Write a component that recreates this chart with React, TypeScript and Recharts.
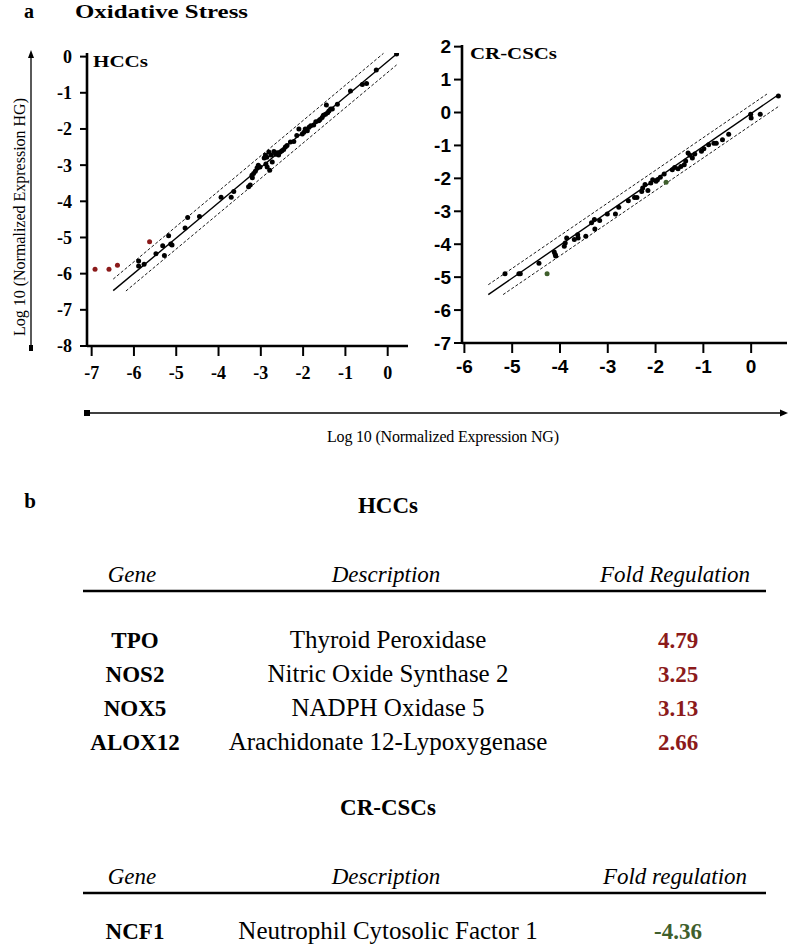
import React from 'react';
import { ScatterChart, Scatter, XAxis, YAxis, ReferenceLine } from 'recharts';

type Pt = [number, number];

// axis ticks
const hccXTicks = [-7, -6, -5, -4, -3, -2, -1, 0];
const hccYTicks = [-8, -7, -6, -5, -4, -3, -2, -1, 0];
const crXTicks = [-6, -5, -4, -3, -2, -1, 0];
const crYTicks = [-7, -6, -5, -4, -3, -2, -1, 0, 1, 2];

// HCCs: log10 expression NG (x) vs HG (y)
const hccPoints: Pt[] = [
  [-5.89, -5.65], [-5.89, -5.79], [-5.76, -5.74], [-5.48, -5.45], [-5.32, -5.23],
  [-5.28, -5.5], [-5.18, -4.95], [-5.13, -5.18], [-5.1, -5.21], [-4.79, -4.74],
  [-4.73, -4.45], [-4.45, -4.42], [-3.94, -3.89], [-3.7, -3.89], [-3.64, -3.73],
  [-3.29, -3.6], [-3.25, -3.55], [-3.21, -3.28], [-3.17, -3.23], [-3.13, -3.17],
  [-3.09, -3.08], [-3.06, -3.0], [-3.02, -3.05], [-3.2, -3.35], [-2.89, -2.73],
  [-2.85, -3.05], [-2.79, -3.14], [-2.88, -2.97], [-2.73, -2.91], [-2.81, -2.64],
  [-2.86, -2.78], [-2.92, -2.8], [-2.76, -2.72], [-2.69, -2.62], [-2.65, -2.7],
  [-2.61, -2.66], [-2.58, -2.72], [-2.54, -2.64], [-2.5, -2.6], [-2.46, -2.57],
  [-2.42, -2.5], [-2.38, -2.46], [-2.3, -2.36], [-2.22, -2.35], [-2.15, -2.18],
  [-2.1, -2.0], [-2.02, -2.14], [-1.98, -2.09], [-1.95, -2.0], [-1.9, -2.05],
  [-1.86, -1.95], [-1.82, -1.91], [-1.75, -1.89], [-1.7, -1.8], [-1.63, -1.77],
  [-1.6, -1.74], [-1.55, -1.68], [-1.52, -1.62], [-1.47, -1.59], [-1.45, -1.34],
  [-1.42, -1.55], [-1.39, -1.5], [-1.35, -1.45], [-1.31, -1.45], [-1.19, -1.32],
  [-0.88, -0.95], [-0.6, -0.77], [-0.5, -0.74], [-0.27, -0.37], [0.21, 0.07],
];
const hccUpPoints: Pt[] = [[-6.92, -5.88], [-6.59, -5.88], [-6.39, -5.77], [-5.63, -5.12]];

// CR-CSCs
const crPoints: Pt[] = [
  [-5.15, -4.9], [-4.86, -4.9], [-4.83, -4.9], [-4.44, -4.58], [-4.12, -4.24],
  [-4.1, -4.31], [-4.09, -4.36], [-3.91, -4.06], [-3.89, -3.96], [-3.86, -3.81],
  [-3.7, -3.86], [-3.63, -3.71], [-3.62, -3.81], [-3.46, -3.76], [-3.34, -3.35],
  [-3.28, -3.25], [-3.27, -3.54], [-3.17, -3.28], [-3.01, -3.08], [-2.84, -3.08],
  [-2.77, -2.88], [-2.57, -2.68], [-2.44, -2.58], [-2.39, -2.58], [-2.29, -2.4],
  [-2.27, -2.29], [-2.22, -2.19], [-2.16, -2.37], [-2.1, -2.14], [-2.06, -2.04],
  [-1.99, -2.09], [-1.96, -2.04], [-1.9, -1.97], [-1.82, -1.87], [-1.65, -1.74],
  [-1.6, -1.67], [-1.53, -1.71], [-1.47, -1.64], [-1.4, -1.59], [-1.37, -1.47],
  [-1.32, -1.23], [-1.28, -1.3], [-1.23, -1.38], [-1.18, -1.26], [-1.04, -1.18],
  [-0.99, -1.1], [-0.89, -0.98], [-0.78, -0.93], [-0.73, -0.93], [-0.6, -0.83],
  [-0.47, -0.66], [-0.01, -0.05], [0.0, -0.17], [0.19, -0.05], [0.57, 0.5],
];
const crDownPoints: Pt[] = [[-4.27, -4.9], [-1.78, -2.12]];

// identity line and 2-fold boundaries (start, end)
const hccFit: Pt[] = [[-6.49, -6.47], [0.21, 0.07]];
const hccUpper: Pt[] = [[-6.49, -6.15], [-0.1, 0.09]];
const hccLower: Pt[] = [[-6.19, -6.48], [0.21, -0.23]];
const crFit: Pt[] = [[-5.5, -5.53], [0.57, 0.54]];
const crUpper: Pt[] = [[-5.5, -5.23], [0.33, 0.56]];
const crLower: Pt[] = [[-5.19, -5.53], [0.6, 0.21]];

// tables
const hccGenes = ['TPO', 'NOS2', 'NOX5', 'ALOX12'];
const hccDescriptions = ['Thyroid Peroxidase', 'Nitric Oxide Synthase 2', 'NADPH Oxidase 5', 'Arachidonate 12-Lypoxygenase'];
const hccFolds = [4.79, 3.25, 3.13, 2.66];
const crGenes = ['NCF1'];
const crDescriptions = ['Neutrophil Cytosolic Factor 1'];
const crFolds = [-4.36];

const SERIF = 'Liberation Serif, Times New Roman, serif';
const NARROW = 'Liberation Sans Narrow, Liberation Sans, Arial, sans-serif';
const UP = '#8b1a1a';
const DOWN = '#3f5f2c';

const toRows = (pts: Pt[]) => pts.map(([x, y]) => ({ x, y }));
const seg = (pts: Pt[]) => pts.map(([x, y]) => ({ x, y }));
const dot = (color: string) => (props: any) => <circle cx={props.cx} cy={props.cy} r={2.5} fill={color} />;

interface PanelProps {
  width: number;
  height: number;
  margin: { top: number; right: number; bottom: number; left: number };
  yWidth: number;
  xDomain: [number, number];
  yDomain: [number, number];
  xTicks: number[];
  yTicks: number[];
  points: Pt[];
  marked: Pt[];
  markColor: string;
  fit: Pt[];
  upper: Pt[];
  lower: Pt[];
  tickFont: React.SVGProps<SVGTextElement>;
  xTickMargin: number;
  yTickSize: number;
  yTickMargin: number;
}

const Panel: React.FC<PanelProps> = (p) => (
  <ScatterChart width={p.width} height={p.height} margin={p.margin}>
    <XAxis
      type="number"
      dataKey="x"
      domain={p.xDomain}
      ticks={p.xTicks}
      interval={0}
      allowDataOverflow
      height={30}
      axisLine={{ stroke: '#000', strokeWidth: 2.6 }}
      tickLine={{ stroke: '#000', strokeWidth: 2 }}
      tickSize={10}
      tickMargin={p.xTickMargin}
      tick={p.tickFont as any}
    />
    <YAxis
      type="number"
      dataKey="y"
      domain={p.yDomain}
      ticks={p.yTicks}
      interval={0}
      allowDataOverflow
      width={p.yWidth}
      axisLine={{ stroke: '#000', strokeWidth: 2.6 }}
      tickLine={{ stroke: '#000', strokeWidth: 2 }}
      tickSize={p.yTickSize}
      tickMargin={p.yTickMargin}
      tick={p.tickFont as any}
    />
    <ReferenceLine segment={seg(p.upper)} stroke="#000" strokeWidth={0.9} strokeDasharray="3 2" ifOverflow="visible" />
    <ReferenceLine segment={seg(p.fit)} stroke="#000" strokeWidth={1.4} ifOverflow="visible" />
    <ReferenceLine segment={seg(p.lower)} stroke="#000" strokeWidth={0.9} strokeDasharray="3 2" ifOverflow="visible" />
    <Scatter data={toRows(p.points)} shape={dot('#000')} isAnimationActive={false} />
    <Scatter data={toRows(p.marked)} shape={dot(p.markColor)} isAnimationActive={false} />
  </ScatterChart>
);

const T: React.FC<React.SVGProps<SVGTextElement>> = (props) => <text fontFamily={SERIF} fill="#000" {...props} />;

const Table: React.FC<{
  top: number;
  title: string;
  foldLabel: string;
  genes: string[];
  descriptions: string[];
  folds: number[];
  color: string;
  rowGap: number;
  firstRow: number;
}> = ({ top, title, foldLabel, genes, descriptions, folds, color, rowGap, firstRow }) => (
  <g>
    <T x={388} y={top} textAnchor="middle" fontSize={23} fontWeight="bold">{title}</T>
    <T x={132} y={top + 69} textAnchor="middle" fontSize={23} fontStyle="italic">Gene</T>
    <T x={386} y={top + 69} textAnchor="middle" fontSize={23} fontStyle="italic">Description</T>
    <T x={675} y={top + 69} textAnchor="middle" fontSize={23} fontStyle="italic">{foldLabel}</T>
    <line x1={83} x2={766} y1={top + 78} y2={top + 78} stroke="#000" strokeWidth={2.4} />
    {genes.map((g, i) => (
      <g key={g}>
        <T x={135} y={top + firstRow + i * rowGap} textAnchor="middle" fontSize={23} fontWeight="bold">{g}</T>
        <T x={388} y={top + firstRow + i * rowGap} textAnchor="middle" fontSize={25}>{descriptions[i]}</T>
        <T x={678} y={top + firstRow + i * rowGap} textAnchor="middle" fontSize={23} fontWeight="bold" fill={color}>
          {folds[i].toFixed(2)}
        </T>
      </g>
    ))}
  </g>
);

export default function App() {
  return (
    <div style={{ position: 'absolute', left: 0, top: 0, width: 790, height: 947, background: '#fff', overflow: 'hidden' }}>
      <div style={{ position: 'absolute', left: 0, top: 0 }}>
        <Panel
          width={410}
          height={400}
          margin={{ top: 53, right: 2, bottom: 24, left: 7 }}
          yWidth={80}
          xDomain={[-7.11, 0.48]}
          yDomain={[-8, 0.1]}
          xTicks={hccXTicks}
          yTicks={hccYTicks}
          points={hccPoints}
          marked={hccUpPoints}
          markColor={UP}
          fit={hccFit}
          upper={hccUpper}
          lower={hccLower}
          tickFont={{ fontFamily: SERIF, fontWeight: 'bold', fontSize: 18, fill: '#000' }}
          xTickMargin={10}
          yTickSize={7}
          yTickMargin={8}
        />
      </div>
      <div style={{ position: 'absolute', left: 410, top: 0 }}>
        <Panel
          width={380}
          height={400}
          margin={{ top: 45, right: 3, bottom: 27, left: 2 }}
          yWidth={50}
          xDomain={[-6.05, 0.75]}
          yDomain={[-7, 2.05]}
          xTicks={crXTicks}
          yTicks={crYTicks}
          points={crPoints}
          marked={crDownPoints}
          markColor={DOWN}
          fit={crFit}
          upper={crUpper}
          lower={crLower}
          tickFont={{ fontFamily: NARROW, fontWeight: 'bold', fontSize: 19, fill: '#000' }}
          xTickMargin={7}
          yTickSize={8}
          yTickMargin={3}
        />
      </div>
      <svg width={790} height={947} style={{ position: 'absolute', left: 0, top: 0, pointerEvents: 'none' }}>
        <T x={29} y={18} textAnchor="middle" fontSize={20} fontWeight="bold">a</T>
        <T x={75} y={18} fontSize={18} fontWeight="bold" textLength={173} lengthAdjust="spacingAndGlyphs">Oxidative Stress</T>
        <T x={93} y={67} fontSize={17} fontWeight="bold" textLength={55} lengthAdjust="spacingAndGlyphs">HCCs</T>
        <T x={470} y={59} fontSize={17} fontWeight="bold" textLength={87} lengthAdjust="spacingAndGlyphs">CR-CSCs</T>
        <T x={30} y={508} textAnchor="middle" fontSize={21} fontWeight="bold">b</T>
        {/* axis arrows */}
        <line x1={31} x2={31} y1={56} y2={348} stroke="#000" strokeWidth={1.3} />
        <polygon points="31,50 28,58 34,58" fill="#000" />
        <rect x={29} y={345} width={4} height={6} fill="#000" />
        <T transform="translate(25,217) rotate(-90)" textAnchor="middle" fontSize={16} textLength={238}>
          Log 10 (Normalized Expression HG)
        </T>
        <line x1={88} x2={782} y1={413} y2={413} stroke="#000" strokeWidth={1.3} />
        <polygon points="788,413 780,409.5 780,416.5" fill="#000" />
        <rect x={84} y={410} width={6} height={6} fill="#000" />
        <T x={443} y={442} textAnchor="middle" fontSize={16} textLength={232}>
          Log 10 (Normalized Expression NG)
        </T>
        <Table
          top={513}
          title="HCCs"
          foldLabel="Fold Regulation"
          genes={hccGenes}
          descriptions={hccDescriptions}
          folds={hccFolds}
          color={UP}
          firstRow={135}
          rowGap={34}
        />
        <Table
          top={815}
          title="CR-CSCs"
          foldLabel="Fold regulation"
          genes={crGenes}
          descriptions={crDescriptions}
          folds={crFolds}
          color={DOWN}
          firstRow={124}
          rowGap={34}
        />
      </svg>
    </div>
  );
}
